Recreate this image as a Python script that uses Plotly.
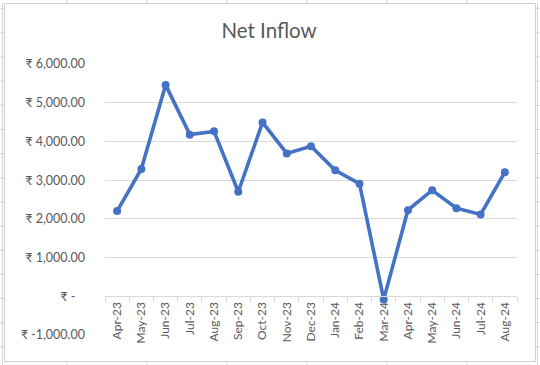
import plotly.graph_objects as go

months = ["Apr-23", "May-23", "Jun-23", "Jul-23", "Aug-23", "Sep-23", "Oct-23", "Nov-23",
          "Dec-23", "Jan-24", "Feb-24", "Mar-24", "Apr-24", "May-24", "Jun-24", "Jul-24", "Aug-24"]
net_inflow = [2200, 3290, 5460, 4175, 4260, 2700, 4490, 3690,
              3875, 3255, 2910, -80, 2225, 2740, 2275, 2115, 3205]
y_ticks = [-1000, 0, 1000, 2000, 3000, 4000, 5000, 6000]
y_tick_text = ["₹ -1,000.00", "₹ -\u00a0\u00a0\u00a0", "₹ 1,000.00", "₹ 2,000.00", "₹ 3,000.00",
               "₹ 4,000.00", "₹ 5,000.00", "₹ 6,000.00"]
y_min, y_max = -1000, 6000

W, H = 540, 365
ML, MR, MT, MB = 105, 23, 64, 30
PW, PH = W - ML - MR, H - MT - MB

FONT = "Lato, 'Noto Sans', 'DejaVu Sans', sans-serif"
GRID = "#d9d9d9"
TXT = "#595959"

def px(x):
    return (x - ML) / PW

def py(y):
    return (H - MB - y) / PH

fig = go.Figure()
fig.add_trace(go.Scatter(
    x=months, y=net_inflow, mode="lines+markers",
    line=dict(color="#4472C4", width=3.6),
    marker=dict(color="#4472C4", size=8),
    showlegend=False, hoverinfo="x+y",
))

shapes = []
cell = "#d4d4d4"
# chart border
shapes.append(dict(type="rect", xref="paper", yref="paper",
                   x0=px(4.5), x1=px(535.5), y0=py(361.5), y1=py(3.5),
                   line=dict(color="#d0d0d0", width=1), layer="below"))
# spreadsheet cell lines outside chart
for k in range(15):
    yy = 8.7 + 24.15 * k
    shapes.append(dict(type="line", xref="paper", yref="paper",
                       x0=px(0), x1=px(4), y0=py(yy), y1=py(yy),
                       line=dict(color=cell, width=1), layer="below"))
    shapes.append(dict(type="line", xref="paper", yref="paper",
                       x0=px(536), x1=px(540), y0=py(yy), y1=py(yy),
                       line=dict(color=cell, width=1), layer="below"))
for k in range(6):
    xx = 67 + 80 * k
    shapes.append(dict(type="line", xref="paper", yref="paper",
                       x0=px(xx), x1=px(xx), y0=py(0), y1=py(3),
                       line=dict(color=cell, width=1), layer="below"))
    shapes.append(dict(type="line", xref="paper", yref="paper",
                       x0=px(xx), x1=px(xx), y0=py(362), y1=py(365),
                       line=dict(color=cell, width=1), layer="below"))
shapes.append(dict(type="line", xref="paper", yref="paper",
                   x0=px(2.5), x1=px(2.5), y0=py(3), y1=py(365),
                   line=dict(color=cell, width=1), layer="below"))
shapes.append(dict(type="line", xref="paper", yref="paper",
                   x0=px(537.5), x1=px(537.5), y0=py(3), y1=py(365),
                   line=dict(color=cell, width=1), layer="below"))

fig.update_layout(
    width=W, height=H,
    margin=dict(l=ML, r=MR, t=MT, b=MB),
    paper_bgcolor="white", plot_bgcolor="white",
    font=dict(family=FONT, color=TXT),
    title=dict(text="Net Inflow", x=(269 / W), xanchor="center", y=1 - 31 / H, yanchor="middle",
               font=dict(size=20.5, color=TXT, family=FONT)),
    shapes=shapes,
    xaxis=dict(
        type="category", categoryorder="array", categoryarray=months,
        range=[-0.5, len(months) - 0.5],
        anchor="free", position=(0 - y_min) / (y_max - y_min),
        showline=True, linecolor=GRID, linewidth=1,
        showgrid=False, zeroline=False,
        ticks="outside", tickson="boundaries", ticklen=5, tickcolor=GRID,
        tickangle=-90, tickfont=dict(size=12, color=TXT, family=FONT),
    ),
    yaxis=dict(
        range=[y_min, y_max], tickvals=y_ticks, ticktext=y_tick_text,
        showgrid=True, gridcolor=GRID, gridwidth=1,
        zeroline=False, showline=False, ticks="",
        ticklabelstandoff=19,
        tickfont=dict(size=12.5, color=TXT, family=FONT),
    ),
)

fig.write_html(
    "out.html",
    config={"displayModeBar": False},
    post_script="document.body.style.margin='0';document.body.style.padding='0';document.body.style.overflow='hidden';",
)
